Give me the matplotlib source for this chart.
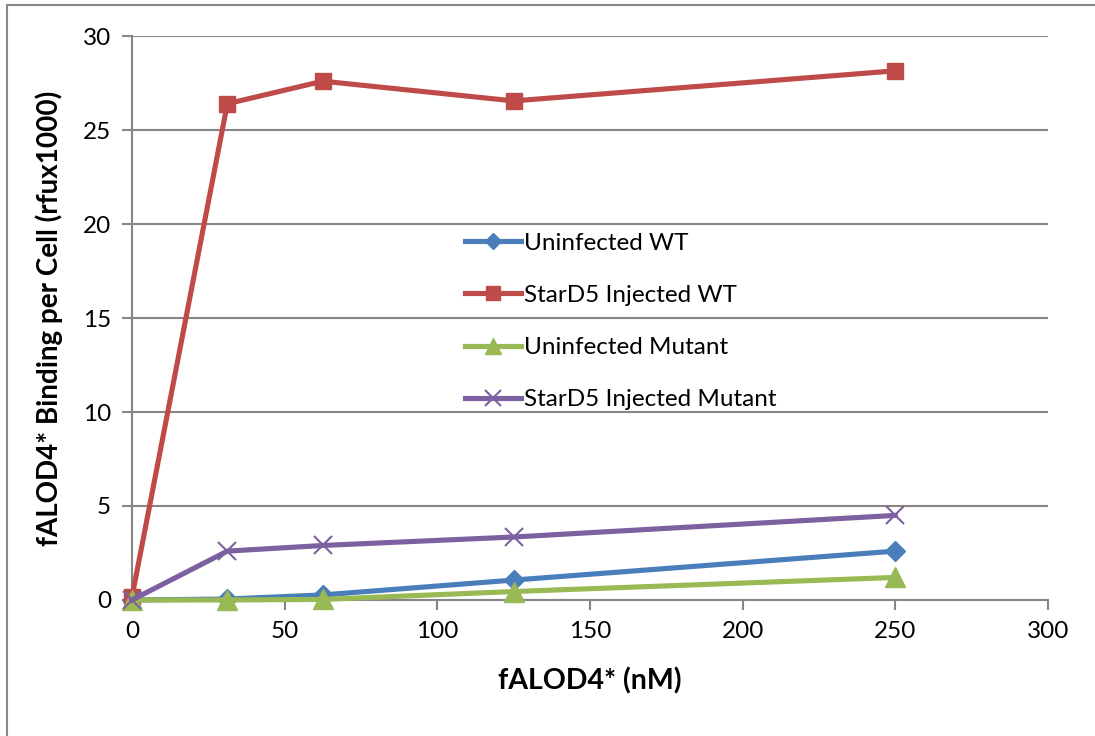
import matplotlib.pyplot as plt
from matplotlib.lines import Line2D

# ---------------------- data
conc = [0, 31.25, 62.5, 125, 250]
uninf_wt = [0.0, 0.05, 0.27, 1.06, 2.6]
stard5_wt = [0.15, 26.4, 27.6, 26.55, 28.15]
uninf_mut = [0.0, 0.0, 0.03, 0.45, 1.2]
stard5_mut = [0.0, 2.6, 2.9, 3.35, 4.5]

x_ticks = [0, 50, 100, 150, 200, 250, 300]
y_ticks = [0, 5, 10, 15, 20, 25, 30]

plt.rcParams['font.family'] = ['Lato', 'DejaVu Sans']
grey = '#868686'

fig = plt.figure(figsize=(10.95, 7.36), dpi=100)
ax = fig.add_axes([0.1205, 0.1848, 0.8365, 0.7662])

lw = 3.7
ax.plot(conc, uninf_wt, color='#4a7ebb', lw=lw, marker='D', ms=10, label='Uninfected WT', zorder=3)
ax.plot(conc, stard5_wt, color='#be4b48', lw=lw, marker='s', ms=12, label='StarD5 Injected WT', zorder=3)
ax.plot(conc, uninf_mut, color='#98b954', lw=lw, marker='^', ms=14, label='Uninfected Mutant', zorder=3)
ax.plot(conc, stard5_mut, color='#7d60a0', lw=lw, marker='x', ms=13, mew=1.5, label='StarD5 Injected Mutant', zorder=3)

ax.set_xlim(0, 300)
ax.set_ylim(0, 30)
ax.set_xticks(x_ticks)
ax.set_yticks(y_ticks)
ax.yaxis.grid(True, color=grey, lw=1.5)
ax.set_axisbelow(True)
for s in ['top', 'right']:
    ax.spines[s].set_visible(False)
for s in ['left', 'bottom']:
    ax.spines[s].set_color(grey)
    ax.spines[s].set_linewidth(1.5)
ax.tick_params(axis='both', color=grey, width=1.5, length=7, labelsize=17.5, pad=8)
for ln in ax.lines:
    ln.set_clip_on(False)

ax.set_xlabel('fALOD4* (nM)', fontsize=20.5, fontweight='bold', labelpad=18)
ax.set_ylabel('fALOD4* Binding per Cell (rfux1000)', fontsize=20, fontweight='bold', labelpad=14)

leg = ax.legend(loc='upper left', bbox_to_anchor=(0.34, 0.69), frameon=False,
                fontsize=17.5, labelspacing=1.28, handlelength=2.3, handletextpad=0.1,
                markerscale=0.85)

# outer chart border
fig.add_artist(Line2D([7 / 1095, 7 / 1095], [0, 1 - 5 / 736], transform=fig.transFigure, color=grey, lw=1.5))
fig.add_artist(Line2D([7 / 1095, 1], [1 - 5 / 736, 1 - 5 / 736], transform=fig.transFigure, color=grey, lw=1.5))

fig.savefig('out.png', dpi=100)
